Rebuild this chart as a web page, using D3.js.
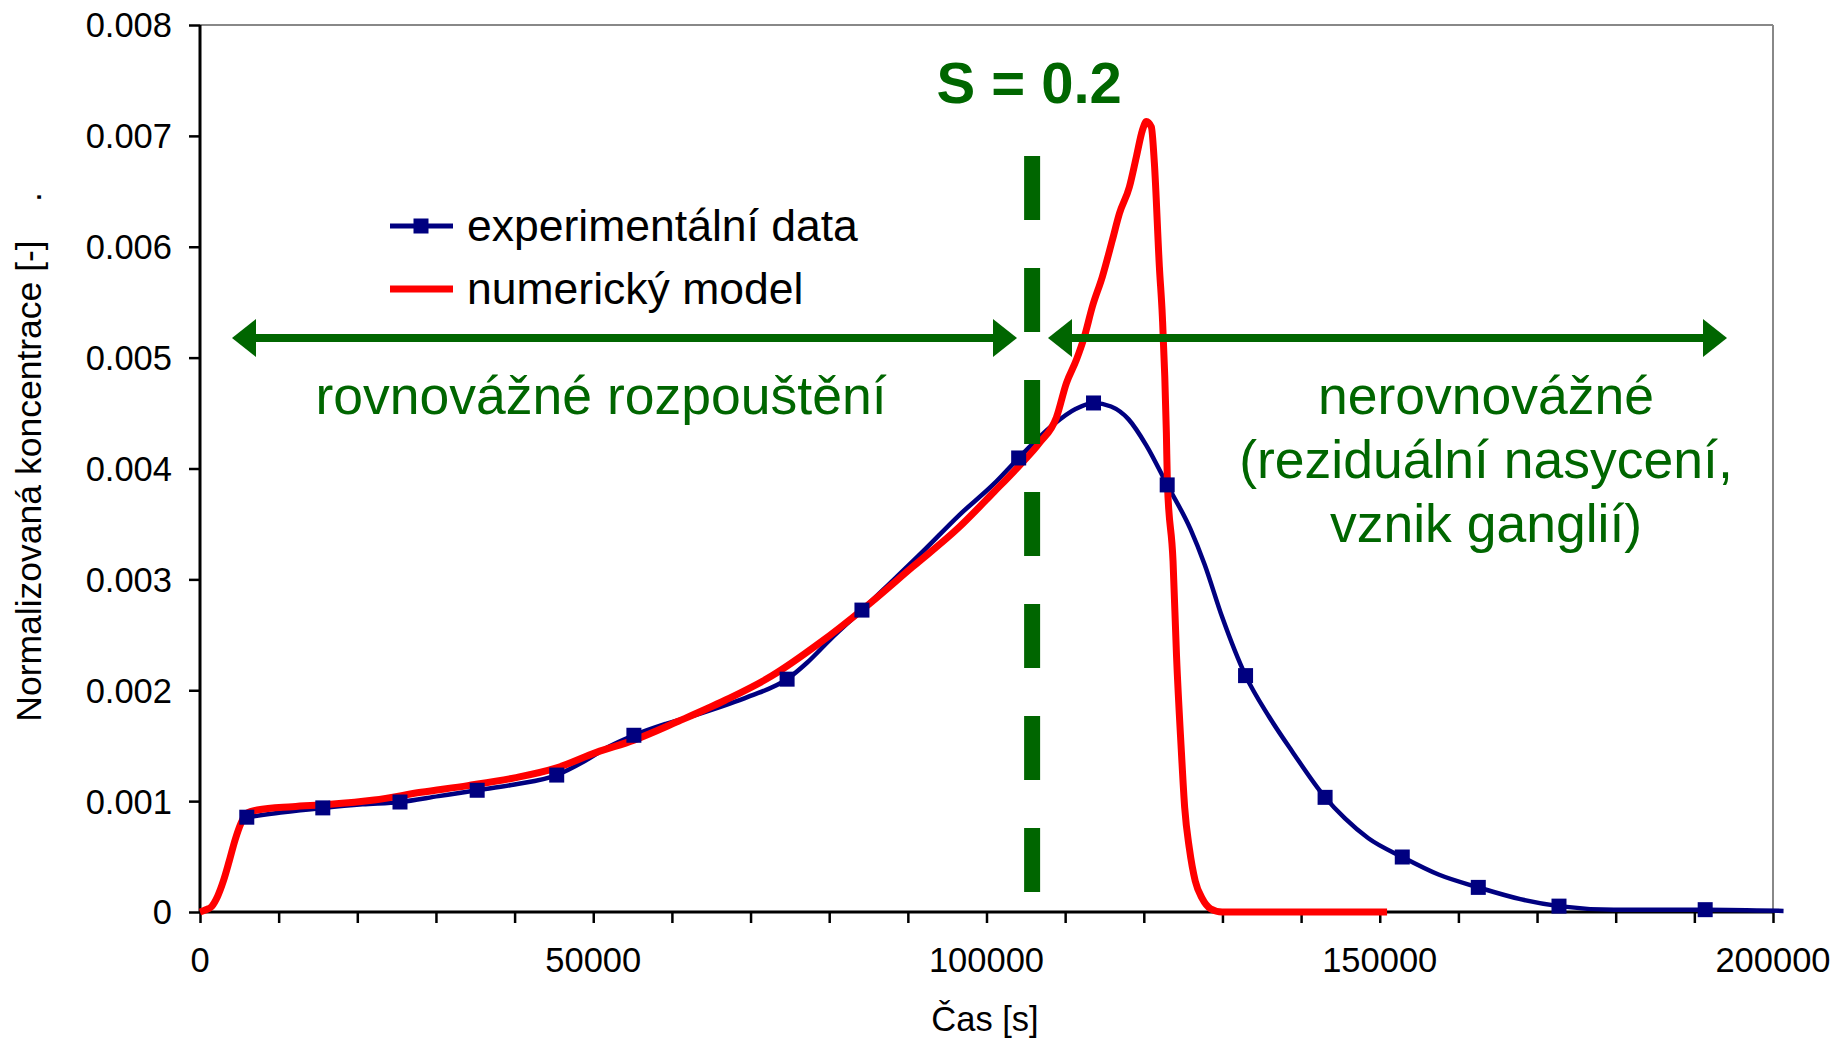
<!DOCTYPE html>
<html>
<head>
<meta charset="utf-8">
<script src="https://cdn.jsdelivr.net/npm/d3@7"></script>
<style>
  html, body { margin: 0; padding: 0; background: #fff; }
  svg { display: block; font-family: "Liberation Sans", Arial, sans-serif; }
</style>
</head>
<body>
<svg id="chart" width="1835" height="1040"></svg>
<script>
// ---------------- data ----------------
const xTickValues = [0, 50000, 100000, 150000, 200000];
const yTickValues = [0, 0.001, 0.002, 0.003, 0.004, 0.005, 0.006, 0.007, 0.008];
const yTickLabels = ["0", "0.001", "0.002", "0.003", "0.004", "0.005", "0.006", "0.007", "0.008"];

// experimental data (blue line)
const expTime = [5948, 10260, 15614, 20669, 25428, 30335, 35242, 40000, 45354, 48922, 51896, 55168,
  59331, 63792, 69740, 74647, 77175, 80149, 84164, 87584, 92045, 96506, 100967, 104090, 108402,
  111376, 113607, 115837, 118068, 120298, 122975, 125949, 127733, 129964, 132938, 135912, 138886,
  143050, 145577, 148551, 152864, 157473, 162530, 167882, 172790, 179779, 191378, 201340];
const expConc = [0.000855, 0.000897, 0.000939, 0.000971, 0.000992, 0.001045, 0.001098, 0.00115,
  0.001235, 0.001361, 0.001488, 0.001594, 0.001699, 0.001794, 0.001942, 0.0021, 0.002248, 0.002459,
  0.002723, 0.002955, 0.003261, 0.003578, 0.003863, 0.004095, 0.00439, 0.004538, 0.004591, 0.004559,
  0.004443, 0.004211, 0.003852, 0.003451, 0.003135, 0.00266, 0.002132, 0.001763, 0.001446, 0.001034,
  0.000844, 0.000665, 0.000496, 0.000338, 0.000222, 0.000116, 0.000053, 0.000021, 0.000021, 0.00001];
// indices of the points that carry a square marker
const expMarkerIdx = [0, 2, 4, 6, 8, 11, 15, 18, 23, 26, 30, 34, 37, 40, 42, 44, 46];

// numerical model (red line)
const modelTime = [0, 744, 1487, 2230, 2974, 3718, 4461, 5205, 5948, 7286, 11747, 16208, 22156, 28104,
  34052, 40000, 45354, 50409, 55168, 60818, 66766, 72714, 78662, 84610, 90558, 96506, 100967, 104090,
  106730, 108890, 110160, 111430, 112450, 113460, 114730, 116000, 116900, 118170, 119050, 119820,
  120330, 120960, 121340, 121980, 122360, 122870, 123000, 123720, 124160, 124760, 125200, 125800,
  126540, 127440, 128480, 129960, 150930];
const modelConc = [0, 0.00002, 0.00005, 0.00014, 0.00028, 0.00046, 0.00065, 0.0008, 0.00089, 0.00092,
  0.00095, 0.00097, 0.00101, 0.00108, 0.00114, 0.00121, 0.0013, 0.00144, 0.00155, 0.00172, 0.00191,
  0.00213, 0.00242, 0.00275, 0.00311, 0.00347, 0.00379, 0.00402, 0.00423, 0.00446, 0.00477, 0.00498,
  0.00519, 0.00546, 0.00573, 0.00606, 0.0063, 0.00654, 0.00681, 0.00705, 0.00713, 0.00708, 0.00676,
  0.00582, 0.00537, 0.00432, 0.00387, 0.00316, 0.00231, 0.00147, 0.00094, 0.00057, 0.00028, 0.00012,
  0.00003, 0, 0];

const saturationTime = 105800;   // S = 0.2 boundary
const seriesNames = ["experimentální data", "numerický model"];

// ---------------- layout ----------------
const svg = d3.select("#chart");
const plotL = 200, plotR = 1773, plotT = 25, plotB = 912;
const green = "#006600", navy = "#000080", red = "#ff0000";

const x = d3.scaleLinear().domain([0, 200000]).range([plotL, plotR]);
const y = d3.scaleLinear().domain([0, 0.008]).range([plotB, plotT]);

// plot border (top/right gray)
svg.append("line").attr("x1", plotL).attr("x2", plotR).attr("y1", plotT).attr("y2", plotT)
  .attr("stroke", "#888").attr("stroke-width", 2);
svg.append("line").attr("x1", plotR).attr("x2", plotR).attr("y1", plotT).attr("y2", plotB)
  .attr("stroke", "#888").attr("stroke-width", 2);

// axes
const xAxis = d3.axisBottom(x).tickValues(d3.range(0, 200001, 10000)).tickSize(11).tickFormat("");
const gx = svg.append("g").attr("transform", `translate(0,${plotB})`).call(xAxis);
gx.select(".domain").attr("stroke", "#000").attr("stroke-width", 3).attr("d", `M${plotL},0H${plotR}`);
gx.selectAll(".tick line").attr("stroke", "#000").attr("stroke-width", 2.5);

gx.selectAll(".tlabel").data(xTickValues).enter().append("text")
  .attr("x", d => x(d)).attr("y", 60)
  .attr("text-anchor", "middle").attr("font-size", 34.5).attr("fill", "#000")
  .text(d => String(d));

const yAxis = d3.axisLeft(y).tickValues(yTickValues).tickSize(11).tickFormat("");
const gy = svg.append("g").attr("transform", `translate(${plotL},0)`).call(yAxis);
gy.select(".domain").attr("stroke", "#000").attr("stroke-width", 3).attr("d", `M0,${plotB}V${plotT}`);
gy.selectAll(".tick line").attr("stroke", "#000").attr("stroke-width", 2.5);
gy.selectAll(".tlabel").data(yTickValues).enter().append("text")
  .attr("x", -28).attr("y", d => y(d)).attr("dy", "0.36em")
  .attr("text-anchor", "end").attr("font-size", 34.5).attr("fill", "#000")
  .text((d, i) => yTickLabels[i]);

// axis titles
svg.append("text").attr("transform", "translate(41,481) rotate(-90)")
  .attr("text-anchor", "middle").attr("font-size", 35.5).attr("fill", "#000")
  .text("Normalizovaná koncentrace [-]");
svg.append("text").attr("transform", "translate(41,197) rotate(-90)")
  .attr("text-anchor", "middle").attr("font-size", 35.5).attr("fill", "#000").text(".");
svg.append("text").attr("x", 985).attr("y", 1031)
  .attr("text-anchor", "middle").attr("font-size", 34.5).attr("fill", "#000").text("Čas [s]");

// series
const expData = expTime.map((t, i) => [t, expConc[i]]);
const modelData = modelTime.map((t, i) => [t, modelConc[i]]);
const line = d3.line().x(d => x(d[0])).y(d => y(d[1])).curve(d3.curveMonotoneX);

svg.append("path").attr("d", line(expData)).attr("fill", "none")
  .attr("stroke", navy).attr("stroke-width", 4.5).attr("stroke-linejoin", "round");
svg.append("path").attr("d", line(modelData)).attr("fill", "none")
  .attr("stroke", red).attr("stroke-width", 7).attr("stroke-linejoin", "round");

const ms = 15;
svg.selectAll(".marker").data(expMarkerIdx.map(i => expData[i])).enter().append("rect")
  .attr("x", d => x(d[0]) - ms / 2).attr("y", d => y(d[1]) - ms / 2)
  .attr("width", ms).attr("height", ms).attr("fill", navy);

// S = 0.2 dashed line
const sx = x(saturationTime);
svg.append("line").attr("x1", sx).attr("x2", sx).attr("y1", 156).attr("y2", 892)
  .attr("stroke", green).attr("stroke-width", 16).attr("stroke-dasharray", "64,48");
svg.append("text").attr("x", sx - 3).attr("y", 103).attr("text-anchor", "middle")
  .attr("font-size", 58).attr("font-weight", "bold").attr("fill", green).text("S = 0.2");

// arrows
const ay = 338;
function arrow(x1, x2) {
  const hl = 24, hw = 19;
  svg.append("line").attr("x1", x1 + hl - 2).attr("x2", x2 - hl + 2).attr("y1", ay).attr("y2", ay)
    .attr("stroke", green).attr("stroke-width", 8);
  svg.append("path").attr("d", `M${x1},${ay}L${x1 + hl},${ay - hw}L${x1 + hl},${ay + hw}Z`).attr("fill", green);
  svg.append("path").attr("d", `M${x2},${ay}L${x2 - hl},${ay - hw}L${x2 - hl},${ay + hw}Z`).attr("fill", green);
}
arrow(232, 1017);
arrow(1048, 1727);

// region labels
svg.append("text").attr("x", 601).attr("y", 414).attr("text-anchor", "middle")
  .attr("font-size", 53.5).attr("fill", green).text("rovnovážné rozpouštění");
const rightLines = ["nerovnovážné", "(reziduální nasycení,", "vznik ganglií)"];
rightLines.forEach((t, i) => {
  svg.append("text").attr("x", 1486).attr("y", 414 + i * 64).attr("text-anchor", "middle")
    .attr("font-size", 53.5).attr("fill", green).text(t);
});

// legend
const lg = svg.append("g");
lg.append("line").attr("x1", 390).attr("x2", 453).attr("y1", 226).attr("y2", 226)
  .attr("stroke", navy).attr("stroke-width", 5);
lg.append("rect").attr("x", 421 - ms / 2).attr("y", 226 - ms / 2).attr("width", ms).attr("height", ms).attr("fill", navy);
lg.append("line").attr("x1", 390).attr("x2", 453).attr("y1", 289).attr("y2", 289)
  .attr("stroke", red).attr("stroke-width", 7);
lg.append("text").attr("x", 467).attr("y", 241).attr("font-size", 44.5).attr("fill", "#000").text(seriesNames[0]);
lg.append("text").attr("x", 467).attr("y", 304).attr("font-size", 44.5).attr("fill", "#000").text(seriesNames[1]);
</script>
</body>
</html>
